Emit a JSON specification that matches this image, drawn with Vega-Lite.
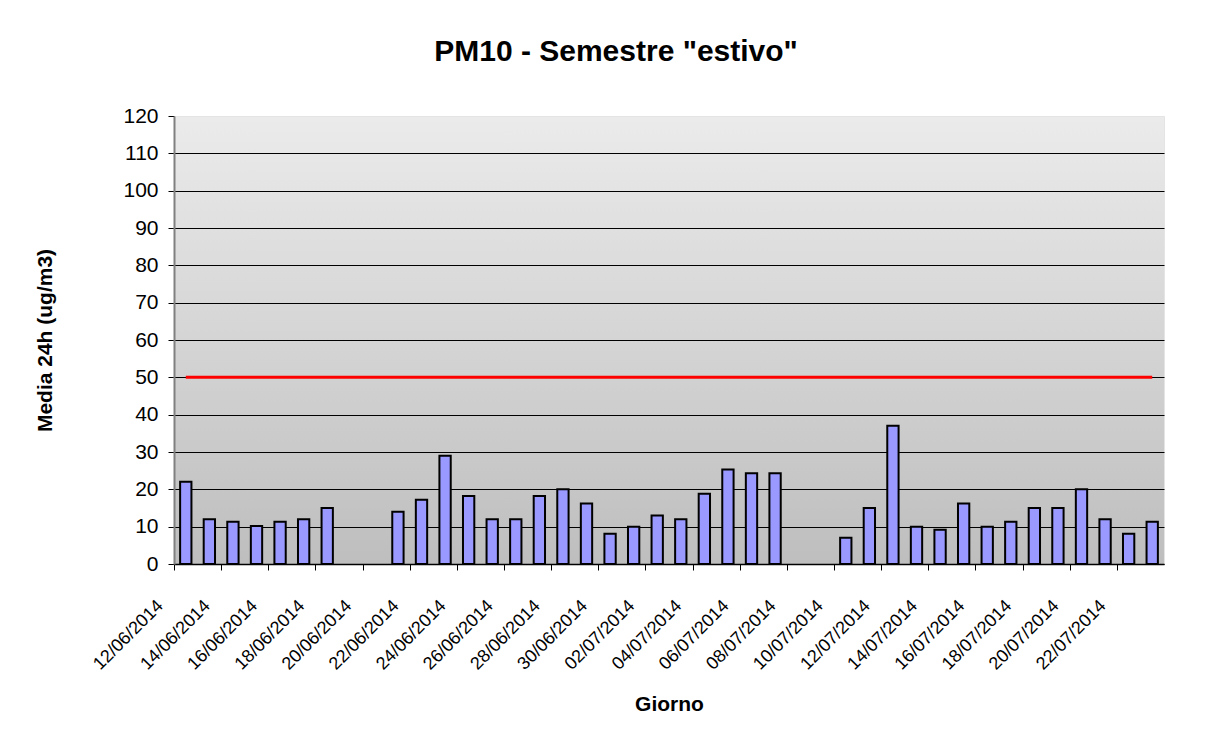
{
  "$schema": "https://vega.github.io/schema/vega-lite/v6.json",
  "width": 990,
  "height": 448,
  "autosize": {"type": "none"},
  "padding": {"left": 174, "top": 116, "right": 59, "bottom": 178},
  "background": "white",
  "config": {"font": "Liberation Sans"},
  "view": {
    "stroke": "#E4E4E4",
    "fill": {
      "gradient": "linear",
      "x1": 0, "y1": 0, "x2": 0, "y2": 1,
      "stops": [
        {"offset": 0, "color": "#EBEBEB"},
        {"offset": 1, "color": "#BEBEBE"}
      ]
    }
  },
  "title": {
    "text": "PM10 - Semestre \"estivo\"",
    "fontSize": 30,
    "fontWeight": "bold",
    "font": "Liberation Sans",
    "color": "black",
    "anchor": "middle",
    "frame": "group",
    "baseline": "alphabetic",
    "dx": -53,
    "offset": 14
  },
  "data": {
    "values": [
      {"date": "12/06/2014", "value": 22},
      {"date": "13/06/2014", "value": 12},
      {"date": "14/06/2014", "value": 11.3},
      {"date": "15/06/2014", "value": 10.2},
      {"date": "16/06/2014", "value": 11.3},
      {"date": "17/06/2014", "value": 12},
      {"date": "18/06/2014", "value": 15},
      {"date": "19/06/2014", "value": null},
      {"date": "20/06/2014", "value": null},
      {"date": "21/06/2014", "value": 14},
      {"date": "22/06/2014", "value": 17.2},
      {"date": "23/06/2014", "value": 29},
      {"date": "24/06/2014", "value": 18.2},
      {"date": "25/06/2014", "value": 12},
      {"date": "26/06/2014", "value": 12},
      {"date": "27/06/2014", "value": 18.2},
      {"date": "28/06/2014", "value": 20},
      {"date": "29/06/2014", "value": 16.2},
      {"date": "30/06/2014", "value": 8.1},
      {"date": "01/07/2014", "value": 10},
      {"date": "02/07/2014", "value": 13},
      {"date": "03/07/2014", "value": 12},
      {"date": "04/07/2014", "value": 18.8},
      {"date": "05/07/2014", "value": 25.3},
      {"date": "06/07/2014", "value": 24.3},
      {"date": "07/07/2014", "value": 24.3},
      {"date": "08/07/2014", "value": null},
      {"date": "09/07/2014", "value": null},
      {"date": "10/07/2014", "value": 7},
      {"date": "11/07/2014", "value": 15},
      {"date": "12/07/2014", "value": 37},
      {"date": "13/07/2014", "value": 10},
      {"date": "14/07/2014", "value": 9.2},
      {"date": "15/07/2014", "value": 16.2},
      {"date": "16/07/2014", "value": 10},
      {"date": "17/07/2014", "value": 11.3},
      {"date": "18/07/2014", "value": 15},
      {"date": "19/07/2014", "value": 15},
      {"date": "20/07/2014", "value": 20},
      {"date": "21/07/2014", "value": 12},
      {"date": "22/07/2014", "value": 8.1},
      {"date": "23/07/2014", "value": 11.3}
    ]
  },
  "encoding": {
    "x": {
      "field": "date",
      "type": "nominal",
      "sort": null,
      "scale": {
        "domain": ["12/06/2014","13/06/2014","14/06/2014","15/06/2014","16/06/2014","17/06/2014","18/06/2014","19/06/2014","20/06/2014","21/06/2014","22/06/2014","23/06/2014","24/06/2014","25/06/2014","26/06/2014","27/06/2014","28/06/2014","29/06/2014","30/06/2014","01/07/2014","02/07/2014","03/07/2014","04/07/2014","05/07/2014","06/07/2014","07/07/2014","08/07/2014","09/07/2014","10/07/2014","11/07/2014","12/07/2014","13/07/2014","14/07/2014","15/07/2014","16/07/2014","17/07/2014","18/07/2014","19/07/2014","20/07/2014","21/07/2014","22/07/2014","23/07/2014"],
        "paddingInner": 0.52,
        "paddingOuter": 0.26
      },
      "axis": {
        "title": "Giorno",
        "values": ["12/06/2014","14/06/2014","16/06/2014","18/06/2014","20/06/2014","22/06/2014","24/06/2014","26/06/2014","28/06/2014","30/06/2014","02/07/2014","04/07/2014","06/07/2014","08/07/2014","10/07/2014","12/07/2014","14/07/2014","16/07/2014","18/07/2014","20/07/2014","22/07/2014"],
        "labelAngle": -45,
        "labelAlign": "right",
        "labelBaseline": "middle",
        "labelFontSize": 18,
        "labelColor": "black",
        "labelPadding": 33,
        "labelOffset": -14,
        "labelOverlap": false,
        "tickSize": 6,
        "tickOffset": -11.78,
        "tickColor": "black",
        "domainColor": "black",
        "domainWidth": 1.5,
        "grid": false,
        "titleFontSize": 21,
        "titleFontWeight": "bold",
        "titleColor": "black",
        "titlePadding": 20
      }
    }
  },
  "layer": [
    {
      "mark": {"type": "bar", "fill": "#9999FF", "stroke": "black", "strokeWidth": 2},
      "encoding": {
        "y": {
          "field": "value",
          "type": "quantitative",
          "scale": {"domain": [0, 120], "nice": false},
          "axis": {
            "title": "Media 24h (ug/m3)",
            "values": [0,10,20,30,40,50,60,70,80,90,100,110,120],
            "tickCount": 13,
            "labelFontSize": 21,
            "labelColor": "black",
            "labelPadding": 10,
            "labelOverlap": false,
            "tickSize": 6,
            "tickColor": "black",
            "domainColor": "#808080",
            "domainWidth": 2,
            "gridColor": "black",
            "gridWidth": 1,
            "gridOpacity": {"condition": {"test": "datum.value >= 120", "value": 0}, "value": 1},
            "titleFontSize": 21,
            "titleFontWeight": "bold",
            "titleColor": "black",
            "titlePadding": 67
          }
        }
      }
    },
    {
      "mark": {"type": "line", "color": "#FF0000", "strokeWidth": 3},
      "encoding": {
        "y": {
          "datum": 50,
          "type": "quantitative",
          "scale": {"domain": [0, 120], "nice": false},
          "axis": {
            "title": "Media 24h (ug/m3)",
            "values": [0,10,20,30,40,50,60,70,80,90,100,110,120],
            "tickCount": 13,
            "labelFontSize": 21,
            "labelColor": "black",
            "labelPadding": 10,
            "labelOverlap": false,
            "tickSize": 6,
            "tickColor": "black",
            "domainColor": "#808080",
            "domainWidth": 2,
            "gridColor": "black",
            "gridWidth": 1,
            "gridOpacity": {"condition": {"test": "datum.value >= 120", "value": 0}, "value": 1},
            "titleFontSize": 21,
            "titleFontWeight": "bold",
            "titleColor": "black",
            "titlePadding": 67
          }
        }
      }
    }
  ]
}
